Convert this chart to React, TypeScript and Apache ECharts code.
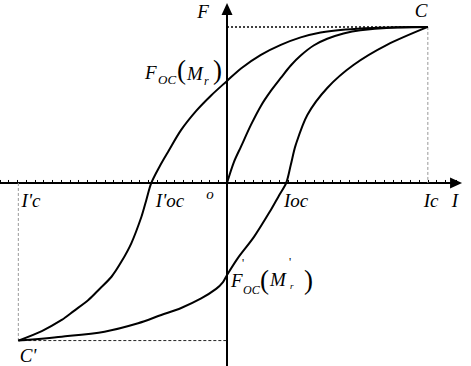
import React, { useEffect, useRef } from 'react';
import * as echarts from 'echarts';

// x in axis-tick units, y normalised so that saturation F = 1
const pointC: [number, number] = [23.0, 1.0];
const pointCPrime: [number, number] = [-23.9, -1.01];

const upperBranch: [number, number][] = [
  [23.0, 1.0], [19.84, 0.998], [16.76, 0.994], [13.57, 0.984], [10.72, 0.965],
  [8.44, 0.933], [6.16, 0.885], [3.88, 0.821], [1.6, 0.734], [0, 0.654],
  [-1.82, 0.561], [-3.53, 0.462], [-5.25, 0.34], [-6.76, 0.199], [-7.75, 0.103],
  [-8.67, 0], [-9.24, -0.109], [-9.81, -0.218], [-10.95, -0.385], [-12.09, -0.504],
  [-13.23, -0.601], [-14.6, -0.679], [-15.88, -0.75], [-17.56, -0.821],
  [-18.93, -0.878], [-21.21, -0.949], [-23.9, -1.01],
];

const lowerBranch: [number, number][] = [
  [-23.9, -1.01], [-18.93, -0.985], [-14.03, -0.953], [-10.18, -0.899],
  [-7.53, -0.846], [-5.25, -0.801], [-2.96, -0.74], [-1.25, -0.679],
  [-0.46, -0.635], [0, -0.59], [1.22, -0.483], [3.11, -0.344], [5.02, -0.173],
  [5.93, -0.083], [6.78, 0], [7.3, 0.115], [7.87, 0.244], [9.2, 0.436],
  [11.48, 0.609], [14.48, 0.756], [18.32, 0.885], [23.0, 1.0],
];

const initialCurve: [number, number][] = [
  [0, 0], [0.8, 0.135], [1.6, 0.233], [2.74, 0.372], [3.88, 0.494],
  [5.02, 0.59], [6.16, 0.673], [7.3, 0.753], [8.44, 0.817], [9.92, 0.881],
  [11.48, 0.924], [13.34, 0.958], [15.28, 0.979], [18.7, 0.995], [23.0, 1.0],
];

const xMin = -26;
const xMax = 26.23;
const yMin = -1.173;
const yMax = 1.115;

const serif = '"Liberation Serif", "DejaVu Serif", serif';

function txt(text: string, x: number, y: number, size: number, italic = true, align = 'left') {
  return {
    type: 'text',
    x,
    y,
    silent: true,
    style: {
      text,
      font: `${italic ? 'italic ' : ''}${size}px ${serif}`,
      fill: '#000',
      align,
      verticalAlign: 'middle',
    },
  };
}

export default function App() {
  const ref = useRef<HTMLDivElement>(null);
  useEffect(() => {
    if (!ref.current) return;
    const chart = echarts.init(ref.current, null, { renderer: 'svg' });
    const curveStyle = { color: '#000', width: 2 };
    const curve = (data: [number, number][]) => ({
      type: 'line', data, symbol: 'none', smooth: 0.3,
      lineStyle: curveStyle, z: 3,
    });
    const option: any = {
      animation: false,
      backgroundColor: '#fff',
      grid: { left: -2.02, right: 471 - (226 + 26.23 * 8.77), top: 9, bottom: 0 },
      xAxis: {
        type: 'value',
        min: xMin,
        max: xMax,
        interval: 1,
        axisLine: {
          onZero: true,
          symbol: ['none', 'triangle'],
          symbolSize: [11, 12],
          lineStyle: { color: '#000', width: 2 },
        },
        axisTick: { show: true, inside: true, length: 3, lineStyle: { color: '#000', width: 1 } },
        axisLabel: { show: false },
        splitLine: { show: false },
      },
      yAxis: {
        type: 'value',
        min: yMin,
        max: yMax,
        axisLine: {
          show: true,
          onZero: true,
          symbol: ['none', 'triangle'],
          symbolSize: [11, 12],
          lineStyle: { color: '#000', width: 2 },
        },
        axisTick: { show: false },
        axisLabel: { show: false },
        splitLine: { show: false },
      },
      series: [
        {
          type: 'line', data: [[0, pointC[1]], pointC], symbol: 'none',
          lineStyle: { color: '#000', width: 1.5, type: [2, 2] }, z: 1,
        },
        {
          type: 'line', data: [pointC, [pointC[0], 0]], symbol: 'none',
          lineStyle: { color: '#999', width: 1, type: [3, 2] }, z: 1,
        },
        {
          type: 'line', data: [[pointCPrime[0], 0], pointCPrime], symbol: 'none',
          lineStyle: { color: '#999', width: 1, type: [3, 2] }, z: 1,
        },
        {
          type: 'line', data: [pointCPrime, [0, pointCPrime[1]]], symbol: 'none',
          lineStyle: { color: '#222', width: 1, type: [3, 2] }, z: 1,
        },
        curve(upperBranch),
        curve(lowerBranch),
        curve(initialCurve),
      ],
      graphic: [
        txt('F', 203, 11, 19, true, 'center'),
        txt('C', 421, 10, 19, true, 'center'),
        txt("C'", 28, 355, 19, true, 'center'),
        txt("I'c", 31, 200, 19, true, 'center'),
        txt("I'oc", 170, 200, 19, true, 'center'),
        txt('o', 210, 194, 15, true, 'center'),
        txt('Ioc', 296, 200, 19, true, 'center'),
        txt('Ic', 431, 200, 19, true, 'center'),
        txt('I', 455, 200, 19, true, 'center'),
        // F_OC(M_r)
        txt('F', 145, 72, 19),
        txt('OC', 158, 79, 13),
        txt('(', 177, 70, 27, false),
        txt('M', 187, 73, 19),
        txt('r', 204, 81, 12),
        txt(')', 213, 70, 27, false),
        // F'_OC(M'_r)
        txt('F', 231, 280, 19),
        txt("'", 242, 263, 12, false),
        txt('OC', 243, 290, 12),
        txt('(', 260, 280, 27, false),
        txt('M', 270, 279, 19),
        txt("'", 289, 262, 12, false),
        txt('r', 290, 286, 9),
        txt(')', 304, 280, 27, false),
      ],
    };
    chart.setOption(option);
    return () => chart.dispose();
  }, []);
  return (
    <div
      ref={ref}
      style={{ position: 'fixed', left: 0, top: 0, width: 471, height: 366, background: '#fff' }}
    />
  );
}
